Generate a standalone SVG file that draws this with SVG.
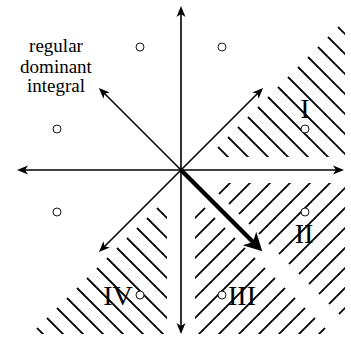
<svg xmlns="http://www.w3.org/2000/svg" width="351" height="338" viewBox="0 0 351 338">
<style>
.ax{stroke:#000;stroke-width:1.6;fill:none}
.thick{stroke:#000;stroke-width:4.5;fill:none}
.h{stroke:#000;stroke-width:1.8;fill:none}
.pt{fill:#fff;stroke:#000;stroke-width:0.9}
.lab{font-family:"Liberation Serif","Times New Roman",serif;font-size:19px;fill:#000;text-anchor:middle}
.rom{font-family:"Liberation Serif","Times New Roman",serif;font-size:28px;fill:#000;text-anchor:middle}
</style>
<defs>
<marker id="ah" markerUnits="userSpaceOnUse" viewBox="-12 -6 14 12" refX="-3" refY="0" markerWidth="14" markerHeight="12" orient="auto">
<path d="M0,0 L-11,-4.5 L-8,0 L-11,4.5 Z" fill="#000"/>
</marker>
<marker id="ahb" markerUnits="userSpaceOnUse" viewBox="-20 -11 22 22" refX="-6" refY="0" markerWidth="22" markerHeight="22" orient="auto">
<path d="M0,0 L-18,-9.5 L-13,0 L-18,9.5 Z" fill="#000"/>
</marker>
<clipPath id="cI"><polygon points="208,157 345,157 345,20"/></clipPath>
<clipPath id="cII"><polygon points="208,183 345,183 345,320"/></clipPath>
<clipPath id="cIII"><polygon points="195,198 195,334 331,334"/></clipPath>
<clipPath id="cIV"><polygon points="167,198 167,334 31,334"/></clipPath>
</defs>
<g id="hatching">
<g id="region-I-hatch" clip-path="url(#cI)">
<path class="h" d="M208,137 l160,160 M218,127 l160,160 M228,117 l160,160 M238,107 l160,160 M248,97 l160,160 M258,87 l160,160 M268,77 l160,160 M278,67 l160,160 M288,57 l160,160 M298,47 l160,160 M308,37 l160,160 M318,27 l160,160 M328,17 l160,160 M338,7 l160,160"/>
</g>
<g id="region-II-hatch" clip-path="url(#cII)">
<path class="h" d="M180,233 l200,-200 M180,253 l200,-200 M180,273 l200,-200 M180,293 l200,-200 M180,313 l200,-200 M180,333 l200,-200 M180,353 l200,-200 M180,373 l200,-200 M180,393 l200,-200 M180,413 l200,-200 M180,433 l200,-200 M180,453 l200,-200 M180,473 l200,-200 M180,493 l200,-200"/>
</g>
<g id="region-III-hatch" clip-path="url(#cIII)">
<path class="h" d="M180,233 l200,-200 M180,253 l200,-200 M180,273 l200,-200 M180,293 l200,-200 M180,313 l200,-200 M180,333 l200,-200 M180,353 l200,-200 M180,373 l200,-200 M180,393 l200,-200 M180,413 l200,-200 M180,433 l200,-200 M180,453 l200,-200 M180,473 l200,-200 M180,493 l200,-200"/>
</g>
<g id="region-IV-hatch" clip-path="url(#cIV)">
<path class="h" d="M147,198 l200,200 M137,208 l200,200 M127,218 l200,200 M117,228 l200,200 M107,238 l200,200 M97,248 l200,200 M87,258 l200,200 M77,268 l200,200 M67,278 l200,200 M57,288 l200,200 M47,298 l200,200 M37,308 l200,200 M27,318 l200,200 M17,328 l200,200"/>
</g>
</g>
<g id="connectors">
<line class="ax" x1="181" y1="170" x2="181" y2="9" marker-end="url(#ah)"/>
<line class="ax" x1="181" y1="170" x2="181" y2="331" marker-end="url(#ah)"/>
<line class="ax" x1="181" y1="170" x2="20" y2="170" marker-end="url(#ah)"/>
<line class="ax" x1="181" y1="170" x2="341" y2="170" marker-end="url(#ah)"/>
<line class="ax" x1="181" y1="170" x2="261" y2="90" marker-end="url(#ah)"/>
<line class="ax" x1="181" y1="170" x2="101" y2="90" marker-end="url(#ah)"/>
<line class="ax" x1="181" y1="170" x2="101" y2="250" marker-end="url(#ah)"/>
<line class="thick" x1="181" y1="170" x2="258" y2="247" marker-end="url(#ahb)"/>
</g>
<g id="points">
<circle class="pt" cx="140" cy="47" r="4"/>
<circle class="pt" cx="222" cy="47" r="4"/>
<circle class="pt" cx="57" cy="129" r="4"/>
<circle class="pt" cx="305" cy="129" r="4"/>
<circle class="pt" cx="57" cy="212" r="4"/>
<circle class="pt" cx="305" cy="212" r="4"/>
<circle class="pt" cx="140" cy="295" r="4"/>
<circle class="pt" cx="222" cy="295" r="4"/>
</g>
<g id="label-text">
<text class="lab" x="56" y="52">regular</text>
<text class="lab" x="56" y="73">dominant</text>
<text class="lab" x="56" y="92">integral</text>
</g>
<g id="region-labels">
<text class="rom" x="305" y="118">I</text>
<text class="rom" x="304" y="243">II</text>
<text class="rom" x="242" y="305">III</text>
<text class="rom" x="118" y="305">IV</text>
</g>
</svg>
